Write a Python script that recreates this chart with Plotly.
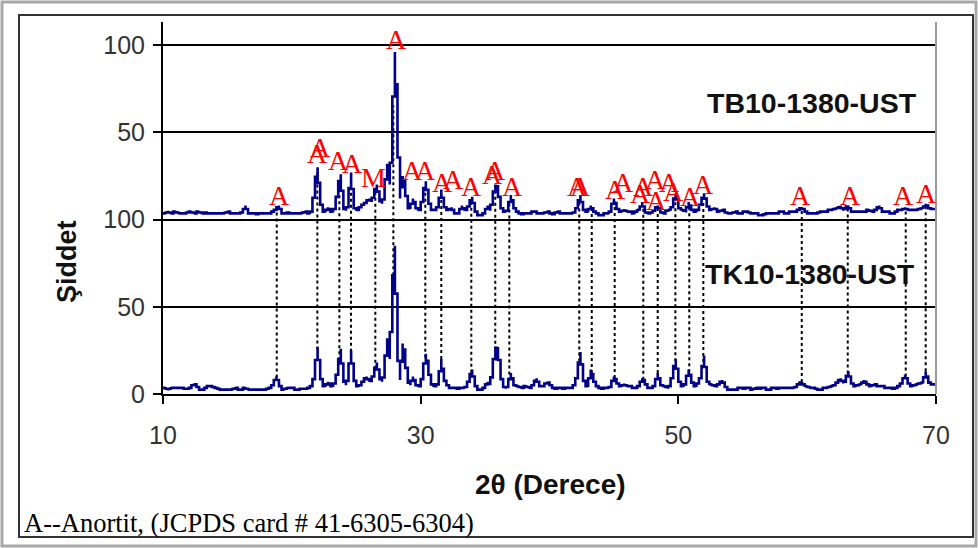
import numpy as np
import plotly.graph_objects as go

# ---------------- data ----------------
# sampling grid of the diffractograms (2-theta, degrees)
two_theta = np.round(np.arange(10, 70.0001, 0.2), 1)

# TK10-1380-UST (lower pattern), one row = 2 degrees (10 samples)
tk_intensity = [
    3, 4, 2, 4, 3, 4, 3, 4, 3, 3,        # 10
    3, 4, 6, 5, 3, 2, 3, 4, 5, 4,        # 12
    4, 3, 3, 2, 3, 2, 3, 2, 4, 3,        # 14
    2, 3, 4, 2, 3, 2, 3, 2, 3, 2,        # 16
    3, 3, 4, 6, 10, 6, 3, 2, 4, 3,       # 18
    4, 3, 2, 3, 3, 3, 3, 4, 5, 12,       # 20
    27, 12, 5, 4, 7, 5, 4, 8, 14, 26,    # 22
    9, 5, 10, 25, 10, 5, 4, 6, 8, 10,    # 24
    7, 8, 12, 18, 10, 7, 12, 32, 20, 51, # 26
    85, 30, 8, 29, 22, 8, 5, 10, 6, 4,   # 28
    5, 12, 23, 15, 7, 4, 5, 6, 20, 9,    # 30
    6, 4, 3, 4, 3, 3, 4, 3, 5, 9,        # 32
    14, 6, 3, 2, 3, 4, 7, 5, 14, 26,     # 34
    27, 12, 5, 3, 5, 12, 6, 4, 5, 3,     # 36
    4, 5, 3, 4, 6, 9, 5, 4, 5, 7,        # 38
    6, 4, 3, 3, 4, 3, 3, 4, 3, 4,        # 40
    6, 12, 24, 10, 5, 4, 14, 9, 5, 4,    # 42
    3, 3, 4, 3, 5, 10, 7, 5, 4, 6,       # 44
    4, 5, 4, 3, 4, 5, 9, 7, 4, 3,        # 46
    4, 5, 12, 6, 4, 5, 3, 6, 12, 20,     # 48
    9, 5, 4, 7, 14, 8, 5, 4, 8, 10,      # 50
    22, 9, 5, 6, 4, 5, 6, 8, 5, 3,       # 52
    2, 3, 2, 3, 4, 3, 3, 4, 3, 2,        # 54
    4, 3, 3, 4, 3, 2, 3, 4, 3, 3,        # 56
    4, 3, 4, 3, 4, 3, 5, 6, 7, 4,        # 58
    5, 3, 4, 3, 3, 2, 3, 4, 3, 5,        # 60
    4, 6, 7, 9, 6, 8, 13, 7, 5, 4,       # 62
    6, 5, 8, 6, 5, 4, 6, 5, 4, 5,        # 64
    4, 3, 4, 3, 3, 4, 5, 7, 11, 7,       # 66
    5, 4, 6, 5, 7, 6, 13, 7, 6, 5,       # 68
    6,                                   # 70
]

# TB10-1380-UST (upper pattern, drawn shifted by TB_OFFSET)
tb_intensity = [
    4, 3, 5, 3, 4, 5, 3, 4, 3, 4,        # 10
    4, 5, 3, 4, 5, 3, 4, 4, 3, 4,        # 12
    3, 4, 3, 4, 3, 5, 4, 3, 4, 3,        # 14
    4, 4, 8, 4, 3, 4, 3, 3, 4, 3,        # 16
    4, 3, 4, 5, 6, 8, 4, 3, 4, 4,        # 18
    3, 4, 3, 4, 3, 5, 4, 3, 6, 19,       # 20
    30, 12, 5, 4, 7, 5, 4, 8, 18, 26,    # 22
    7, 5, 9, 27, 8, 5, 6, 8, 9, 10,      # 24
    12, 10, 15, 20, 12, 9, 14, 32, 20, 45,  # 26
    96, 59, 12, 25, 20, 7, 6, 12, 8, 5,  # 28
    6, 14, 22, 12, 6, 5, 6, 8, 17, 8,    # 30
    6, 5, 7, 4, 3, 4, 8, 5, 6, 9,        # 32
    13, 6, 3, 2, 3, 4, 8, 5, 12, 20,     # 34
    18, 8, 5, 4, 6, 14, 8, 5, 4, 3,      # 36
    3, 4, 3, 4, 5, 4, 3, 4, 3, 5,        # 38
    4, 3, 3, 5, 4, 3, 4, 3, 4, 3,        # 40
    5, 8, 14, 6, 5, 4, 8, 5, 4, 3,       # 42
    2, 3, 4, 3, 6, 12, 7, 5, 4, 6,       # 44
    4, 5, 4, 3, 6, 5, 10, 5, 3, 4,       # 46
    4, 6, 8, 5, 3, 4, 6, 5, 9, 15,       # 48
    8, 5, 6, 4, 10, 6, 5, 4, 7, 10,      # 50
    15, 9, 6, 5, 7, 5, 4, 6, 5, 3,       # 52
    4, 3, 5, 4, 3, 4, 5, 4, 4, 3,        # 54
    4, 3, 2, 3, 3, 4, 3, 4, 3, 4,        # 56
    5, 4, 3, 4, 5, 4, 5, 6, 7, 5,        # 58
    4, 3, 4, 3, 4, 4, 5, 4, 5, 6,        # 60
    5, 7, 6, 8, 5, 7, 8, 5, 4, 5,        # 62
    4, 5, 4, 5, 6, 4, 5, 6, 8, 5,        # 64
    4, 5, 4, 3, 4, 5, 6, 5, 7, 5,        # 66
    6, 5, 6, 5, 7, 6, 9, 7, 6, 6,        # 68
    6,                                   # 70
]
TB_OFFSET = 100

# 2-theta positions of the dotted reference lines
peak_lines = [18.83, 21.98, 23.69, 24.59, 26.48, 27.88, 30.36, 31.60, 33.93,
              35.79, 36.88, 42.31, 43.28, 45.06, 47.28, 48.40, 49.77, 50.85,
              51.94, 59.58, 63.15, 67.65, 69.20]

# phase labels (x = 2-theta, y = chart value of the label centre)
label_text = ["A", "A", "A", "A", "A", "M", "A", "A", "A", "A", "A", "A", "A",
              "A", "A", "A", "A", "A", "A", "A", "A", "A", "A", "A", "A", "A",
              "A", "A", "A", "A", "A"]
label_x = [19.08, 22.03, 22.19, 23.66, 24.67, 26.30, 28.16, 29.40, 30.34,
           31.66, 32.51, 33.98, 35.54, 35.77, 37.09, 42.14, 42.37, 45.16,
           45.71, 47.03, 47.26, 48.19, 48.34, 49.35, 49.59, 50.91, 51.92,
           59.45, 63.33, 67.44, 69.30]
label_y = [114, 138, 141, 134, 132, 124, 203, 128, 128, 121, 123, 119, 126,
           128, 119, 119, 119, 117, 121, 115, 119, 123, 111, 121, 116, 113,
           120, 114, 114, 114, 115]

y_tick_vals = [0, 50, 100, 150, 200]
y_tick_text = ["0", "50", "100", "50", "100"]
x_tick_vals = [10, 30, 50, 70]

assert len(tk_intensity) == len(two_theta) == len(tb_intensity)

# ---------------- figure ----------------
W, H = 978, 548
L, R, T, B = 163, 936, 22, 394  # plot area in pixels
Y_MAX = 213.2

def px(x):
    return (x - L) / (R - L)

def py(y):
    return (B - y) / (B - T)

tk = np.array(tk_intensity, dtype=float)
tb = np.array(tb_intensity, dtype=float) + TB_OFFSET

fig = go.Figure()

# dotted connector lines (from lower pattern up to upper pattern)
dx, dy = [], []
for p in peak_lines:
    dx += [p, p, None]
    dy += [float(np.interp(p, two_theta, tk)), float(np.interp(p, two_theta, tb)), None]
fig.add_trace(go.Scatter(x=dx, y=dy, mode="lines",
                         line=dict(color="black", width=2, dash="dot"),
                         hoverinfo="skip", showlegend=False))

navy = "#00008b"
fig.add_trace(go.Scatter(x=two_theta, y=tk, mode="lines", line_shape="vhv",
                         line=dict(color=navy, width=2.6), showlegend=False))
fig.add_trace(go.Scatter(x=two_theta, y=tb, mode="lines", line_shape="vhv",
                         line=dict(color=navy, width=2.6), showlegend=False))

ann = []
for t, x, y in zip(label_text, label_x, label_y):
    ann.append(dict(x=x, y=y, xref="x", yref="y", text=t, showarrow=False,
                    xanchor="center", yanchor="middle",
                    font=dict(family="Liberation Serif, Times New Roman", size=28,
                              color="#ff0000")))

sans = "Liberation Sans, Arial"
ann.append(dict(x=60.38, y=166.8, xref="x", yref="y", text="<b>TB10-1380-UST</b>",
                showarrow=False, xanchor="center", yanchor="middle",
                font=dict(family=sans, size=28.5, color="#111")))
ann.append(dict(x=60.2, y=68.8, xref="x", yref="y", text="<b>TK10-1380-UST</b>",
                showarrow=False, xanchor="center", yanchor="middle",
                font=dict(family=sans, size=28.5, color="#111")))
ann.append(dict(x=px(550), y=py(484), xref="paper", yref="paper",
                text="<b>2θ (Derece)</b>", showarrow=False,
                xanchor="center", yanchor="middle",
                font=dict(family=sans, size=28, color="#111")))
ann.append(dict(x=px(67), y=py(262), xref="paper", yref="paper",
                text="<b>Şiddet</b>", showarrow=False, textangle=-90,
                xanchor="center", yanchor="middle",
                font=dict(family=sans, size=27, color="#111")))
ann.append(dict(x=px(22), y=py(523), xref="paper", yref="paper",
                text="A--Anortit, (JCPDS card # 41-6305-6304)", showarrow=False,
                xanchor="left", yanchor="middle",
                font=dict(family="Liberation Serif, Times New Roman", size=26.5,
                          color="#000")))

shapes = [
    # outer grey frame
    dict(type="rect", xref="paper", yref="paper", x0=px(2), x1=px(976),
         y0=py(2), y1=py(546), line=dict(color="#a8a8a8", width=3), layer="below"),
    # inner black frame
    dict(type="rect", xref="paper", yref="paper", x0=px(19), x1=px(973),
         y0=py(15), y1=py(537), line=dict(color="#333", width=2), layer="below"),
    # right plot edge (grey)
    dict(type="line", xref="paper", yref="paper", x0=1, x1=1, y0=0, y1=1,
         line=dict(color="#999", width=2)),
]

fig.update_layout(
    width=W, height=H,
    margin=dict(l=L, r=W - R, t=T, b=H - B),
    paper_bgcolor="white", plot_bgcolor="white",
    annotations=ann, shapes=shapes, showlegend=False,
    xaxis=dict(range=[10, 70], tickvals=x_tick_vals, showgrid=False,
               zeroline=False, showline=True, linecolor="black", linewidth=2,
               ticks="outside", ticklen=8, tickwidth=2, tickcolor="black",
               ticklabelstandoff=10,
               tickfont=dict(family=sans, size=25, color="#333")),
    yaxis=dict(range=[0, Y_MAX], tickvals=y_tick_vals, ticktext=y_tick_text,
               showgrid=True, gridcolor="black", gridwidth=1.5, zeroline=False,
               showline=True, linecolor="black", linewidth=2,
               ticks="outside", ticklen=8, tickwidth=2, tickcolor="black",
               ticklabelstandoff=3,
               tickfont=dict(family=sans, size=25, color="#333")),
)

fig.write_html("out.html")
